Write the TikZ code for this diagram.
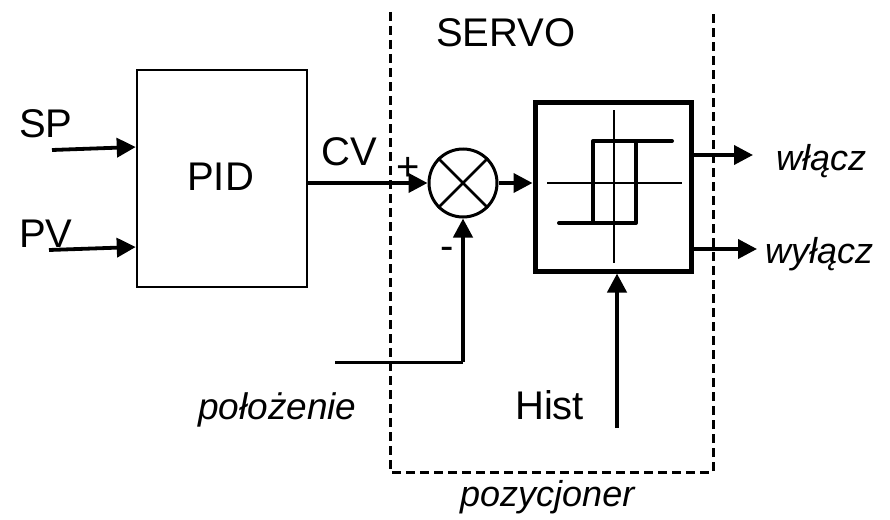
\documentclass[tikz,border=0pt]{standalone}
\usepackage{fontspec}
\setmainfont{Liberation Sans}
\usetikzlibrary{arrows.meta}
\begin{document}
\begin{tikzpicture}[x=1pt,y=-1pt,
  arr/.style={line width=3.8pt,-{Triangle[length=19pt,width=19pt]}},
  lbl/.style={font=\fontsize{40}{48}\selectfont, inner sep=0pt, anchor=base west},
  ilbl/.style={font=\fontsize{36}{43}\selectfont\itshape, inner sep=0pt, anchor=base west},
  sign/.style={font=\fontsize{40}{48}\selectfont, inner sep=0pt}]
\useasboundingbox (0,0) rectangle (890,519);
% dashed servo frame
\draw[line width=3pt, dash pattern=on 9pt off 5pt] (390,12) -- (390,472) -- (713,472) -- (713,10);
% blocks
\node[draw, line width=2.5pt, minimum width=170pt, minimum height=217pt, inner sep=0pt] (pid) at (222,178.5) {};
\node[draw, circle, line width=3pt, minimum size=68pt, inner sep=0pt] (sum) at (463,183) {};
\draw[line width=2.5pt] (sum.north west) -- (sum.south east) (sum.north east) -- (sum.south west);
\node[draw, line width=5pt, minimum width=156pt, minimum height=169pt, inner sep=0pt] (hyst) at (613,186.5) {};
% hysteresis symbol
\draw[line width=2.5pt] (614,110) -- (614,263) (547,183) -- (682,183);
\draw[line width=4pt, line cap=round, line join=round] (559,223) -- (636,223) -- (636,141) -- (672,141);
\draw[line width=4pt, line join=round] (593,223) -- (593,141) -- (636,141);
% labels
\node[lbl] (sp) at (19,137) {SP};
\node[lbl] (pv) at (19,247) {PV};
\node[lbl] (pidt) at (187,190) {PID};
\node[lbl] (cv) at (321,165) {CV};
\node[sign] (plus) at (408,169) {+};
\node[sign] (minus) at (447,253) {-};
\node[lbl] (servo) at (436,47) {SERVO};
\node[lbl] (hist) at (515,419) {Hist};
\node[ilbl] (on) at (776,170) {włącz};
\node[ilbl] (off) at (765,263) {wyłącz};
\node[ilbl] (poz) at (460,506) {pozycjoner};
\node[ilbl, font=\fontsize{37}{44}\selectfont\itshape] (pol) at (198,419) {położenie};
% connectors
\coordinate (sp0) at (52,150);
\coordinate (sp1) at (0,147);
\draw[arr] (sp0) -- (pid.west |- sp1);
\coordinate (pv0) at (49,250);
\coordinate (pv1) at (0,247);
\draw[arr] (pv0) -- (pid.west |- pv1);
\draw[arr] (pid.east |- sum.west) -- (sum.west);
\draw[arr] (sum.east) -- (hyst.west |- sum.east);
\coordinate (fb0) at (335,362);
\draw[line width=3pt] (fb0) -- (fb0 -| sum.south);
\draw[arr, line width=4.2pt] (fb0 -| sum.south) -- (sum.south);
\coordinate (h0) at (617,428);
\draw[arr, line width=4.2pt] (h0) -- (h0 |- hyst.south);
\coordinate (o1) at (753,155);
\draw[arr] (hyst.east |- o1) -- (o1);
\coordinate (o2) at (757,249);
\draw[arr] (hyst.east |- o2) -- (o2);
\end{tikzpicture}
\end{document}
